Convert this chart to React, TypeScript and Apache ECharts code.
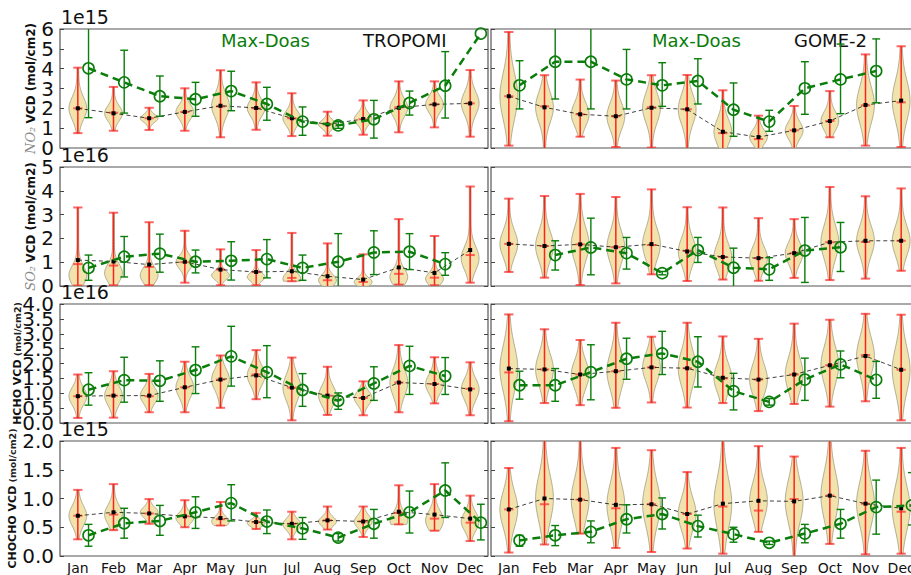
import React, { useEffect, useRef } from 'react';
import * as echarts from 'echarts';

const months = ['Jan', 'Feb', 'Mar', 'Apr', 'May', 'Jun', 'Jul', 'Aug', 'Sep', 'Oct', 'Nov', 'Dec'];

// ---- NO2 (1e15) ----
const no2TropMin = [0.75, 0.87, 0.91, 0.87, 0.54, 0.92, 0.6, 0.62, 0.67, 0.79, 1.04, 0.57];
const no2TropMax = [4.05, 3.08, 2.03, 3.01, 3.92, 3.31, 2.76, 1.83, 2.4, 3.36, 3.36, 3.93];
const no2TropMean = [2.0, 1.75, 1.5, 1.82, 2.13, 2.02, 1.5, 1.19, 1.46, 2.03, 2.2, 2.25];
const no2TropMedian = [2.0, 1.78, 1.5, 1.82, 2.1, 2.0, 1.5, 1.2, 1.45, 2.05, 2.2, 2.25];
const no2DoasT = [4.02, 3.31, 2.61, 2.46, 2.87, 2.22, 1.33, 1.14, 1.45, 2.27, 3.14, 5.77];
const no2DoasTLo = [1.53, 1.76, 1.6, 1.6, 1.88, 1.4, 0.64, 0.99, 0.5, 1.66, 1.51, null];
const no2DoasTHi = [6.5, 4.93, 3.63, 3.31, 3.87, 3.06, 2.07, 1.33, 2.4, 2.87, 4.86, null];

const no2GomeMin = [0.12, -0.1, 0.57, 0.05, 0.02, -0.05, -0.2, -0.15, -0.05, 0.54, 0.12, 0.05];
const no2GomeMax = [5.85, 3.67, 3.45, 3.4, 3.67, 3.68, 2.91, 1.63, 2.12, 2.87, 4.72, 5.13];
const no2GomeMean = [2.61, 2.05, 1.7, 1.6, 2.03, 1.95, 0.82, 0.55, 0.89, 1.36, 2.17, 2.39];
const no2GomeMedian = [2.61, 2.1, 1.7, 1.6, 2.05, 1.95, 0.75, 0.45, 0.89, 1.36, 2.15, 2.3];
const no2DoasG = [3.16, 4.35, 4.35, 3.46, 3.16, 3.38, 1.93, 1.33, 3.01, 3.46, 3.88, null];
const no2DoasGLo = [1.97, 2.47, 1.97, 1.97, 2.1, 2.22, 0.59, 0.84, 1.7, 1.73, 2.28, null];
const no2DoasGHi = [4.4, 6.5, 6.5, 4.97, 4.3, 4.5, 3.28, 1.9, 4.35, 5.24, 5.5, null];

// ---- SO2 (1e16) ----
const so2TropMin = [0.02, 0.03, 0.03, 0.14, 0.03, 0.03, 0.2, -0.1, -0.1, 0.06, 0.03, 0.14];
const so2TropMax = [3.3, 3.08, 2.68, 2.32, 1.54, 1.51, 2.23, 1.79, 1.33, 2.81, 2.1, 4.18];
const so2TropMean = [1.09, 1.03, 0.9, 1.02, 0.69, 0.59, 0.62, 0.41, 0.27, 0.78, 0.55, 1.51];
const so2TropMedian = [0.92, 0.86, 0.8, 1.0, 0.69, 0.59, 0.34, 0.24, 0.17, 0.51, 0.35, 1.3];
const so2TropMode = [0.45, 0.55, 0.45, 1.0, 0.45, 0.38, 0.3, 0.24, 0.17, 0.38, 0.3, 1.16];
const so2DoasT = [0.76, 1.23, 1.36, 1.02, 1.06, 1.13, 0.76, 1.02, 1.41, 1.44, 0.92, null];
const so2DoasTLo = [0.24, 0.38, 0.58, 0.55, 0.25, 0.34, 0.24, -0.2, 0.48, 0.69, 0.45, null];
const so2DoasTHi = [1.3, 2.08, 2.18, 1.51, 1.86, 1.95, 1.3, 2.2, 2.32, 2.2, 1.4, null];

const so2GomeMin = [0.59, 0.35, 0.04, 0.11, 0.49, 0.21, 0.27, 0.22, 0.34, 0.25, 0.31, 0.64];
const so2GomeMax = [3.67, 3.78, 3.87, 3.74, 4.06, 3.31, 3.3, 2.85, 2.81, 4.16, 3.77, 4.1];
const so2GomeMean = [1.77, 1.68, 1.75, 1.63, 1.76, 1.45, 1.22, 1.17, 1.38, 1.84, 1.9, 1.9];
const so2GomeMedian = [1.77, 1.68, 1.75, 1.63, 1.72, 1.48, 1.22, 1.17, 1.38, 1.84, 1.85, 1.9];
const so2DoasG = [null, 1.3, 1.62, 1.38, 0.54, 1.51, 0.77, 0.7, 1.49, 1.63, null, null];
const so2DoasGLo = [null, 0.67, 0.47, 0.71, 0.47, 0.99, -0.2, 0.24, 0.15, 0.61, null, null];
const so2DoasGHi = [null, 1.9, 2.85, 2.04, 0.61, 2.04, 1.59, 1.19, 2.88, 2.67, null, null];

// ---- HCHO (1e16) ----
const hchoTropMin = [0.17, 0.18, 0.36, 0.36, 0.51, 0.8, 0.09, 0.27, 0.26, 0.36, 0.66, 0.26];
const hchoTropMax = [1.63, 1.74, 1.65, 2.06, 2.27, 2.45, 2.2, 1.89, 1.4, 2.62, 2.21, 2.04];
const hchoTropMean = [0.9, 0.92, 0.92, 1.2, 1.46, 1.6, 1.19, 0.92, 0.84, 1.36, 1.31, 1.13];
const hchoTropMedian = [0.9, 0.92, 0.9, 1.2, 1.46, 1.63, 1.19, 0.92, 0.84, 1.36, 1.31, 1.15];
const hchoDoasT = [1.12, 1.44, 1.42, 1.78, 2.24, 1.71, 1.11, 0.75, 1.33, 1.92, 1.58, null];
const hchoDoasTLo = [0.6, 0.7, 0.73, 0.99, 1.24, 0.85, 0.56, 0.46, 0.76, 0.96, 0.96, null];
const hchoDoasTHi = [1.69, 2.21, 2.09, 2.56, 3.25, 2.6, 1.66, 1.01, 1.89, 2.58, 2.2, null];

const hchoGomeMin = [0.06, 0.67, 0.6, 0.51, 0.69, 0.52, 0.67, 0.4, 0.64, 0.55, 0.73, 0.09];
const hchoGomeMax = [3.65, 3.15, 2.79, 3.37, 2.9, 3.37, 2.91, 2.83, 3.34, 3.47, 3.67, 3.64];
const hchoGomeMean = [1.83, 1.8, 1.63, 1.74, 1.87, 1.84, 1.52, 1.46, 1.63, 1.94, 2.25, 1.79];
const hchoGomeMedian = [1.7, 1.8, 1.63, 1.74, 1.87, 1.84, 1.5, 1.46, 1.63, 1.94, 2.28, 1.79];
const hchoDoasG = [1.27, 1.27, 1.71, 2.16, 2.34, 2.06, 1.07, 0.71, 1.46, 1.97, 1.45, null];
const hchoDoasGLo = [0.8, 0.73, 0.78, 1.47, 1.63, 1.21, 0.44, 0.6, 0.76, 1.52, 0.83, null];
const hchoDoasGHi = [1.74, 1.83, 2.63, 2.85, 3.08, 2.9, 1.67, 0.82, 2.18, 2.42, 2.07, null];

// ---- CHOCHO (1e15) ----
const chochoTropMin = [0.29, 0.45, 0.56, 0.5, 0.53, 0.47, 0.29, 0.46, 0.33, 0.55, 0.44, 0.26];
const chochoTropMax = [1.15, 1.25, 0.99, 0.97, 0.94, 0.75, 0.77, 0.86, 0.86, 1.23, 1.25, 1.05];
const chochoTropMean = [0.7, 0.76, 0.74, 0.69, 0.66, 0.59, 0.56, 0.62, 0.6, 0.77, 0.72, 0.65];
const chochoTropMedian = [0.7, 0.72, 0.74, 0.69, 0.64, 0.59, 0.56, 0.62, 0.6, 0.75, 0.65, 0.58];
const chochoTropMode = [0.7, 0.72, 0.76, 0.66, 0.6, 0.57, 0.55, 0.6, 0.6, 0.62, 0.62, 0.6];
const chochoDoasT = [0.36, 0.57, 0.61, 0.76, 0.92, 0.6, 0.48, 0.32, 0.56, 0.76, 1.14, 0.58];
const chochoDoasTLo = [0.17, 0.31, 0.36, 0.48, 0.61, 0.39, 0.29, 0.26, 0.31, 0.4, 0.67, 0.28];
const chochoDoasTHi = [0.55, 0.83, 0.88, 1.03, 1.24, 0.8, 0.67, 0.39, 0.81, 1.13, 1.62, 0.9];

const chochoGomeMin = [0.06, 0.2, 0.39, 0.14, 0.07, 0.13, 0.04, 0.42, -0.05, 0.21, 0.03, 0.04];
const chochoGomeMax = [1.53, 2.1, 2.1, 1.88, 1.84, 1.46, 2.1, 1.91, 1.73, 2.15, 1.83, 1.88];
const chochoGomeMean = [0.81, 1.0, 0.98, 0.89, 0.9, 0.73, 0.91, 0.96, 0.95, 1.05, 0.91, 0.83];
const chochoGomeMedian = [0.81, 0.9, 0.98, 0.83, 0.9, 0.73, 0.86, 0.79, 0.99, 1.05, 0.91, 0.77];
const chochoDoasG = [0.27, 0.36, 0.42, 0.64, 0.73, 0.52, 0.38, 0.23, 0.39, 0.56, 0.85, 0.88];
const chochoDoasGLo = [0.17, 0.18, 0.23, 0.4, 0.47, 0.33, 0.24, 0.2, 0.23, 0.31, 0.38, 0.54];
const chochoDoasGHi = [0.36, 0.53, 0.61, 0.89, 1.01, 0.71, 0.5, 0.26, 0.55, 0.81, 1.32, 1.45];

// HCHO tick labels (drawn separately, they overlap as in the original)
const hchoTicks = [0, 0.5, 1.0, 1.5, 2.0, 2.5, 3.0, 3.5, 4.0];

type Panel = {
  min: number[]; max: number[]; mean: number[]; median: number[]; mode: number[]; k: number;
  doas: (number | null)[]; lo: (number | null)[]; hi: (number | null)[];
};

const panels: Panel[] = [
  { min: no2TropMin, max: no2TropMax, mean: no2TropMean, median: no2TropMedian, mode: no2TropMean, k: 0.17, doas: no2DoasT, lo: no2DoasTLo, hi: no2DoasTHi },
  { min: no2GomeMin, max: no2GomeMax, mean: no2GomeMean, median: no2GomeMedian, mode: no2GomeMean, k: 0.2, doas: no2DoasG, lo: no2DoasGLo, hi: no2DoasGHi },
  { min: so2TropMin, max: so2TropMax, mean: so2TropMean, median: so2TropMedian, mode: so2TropMode, k: 0.12, doas: so2DoasT, lo: so2DoasTLo, hi: so2DoasTHi },
  { min: so2GomeMin, max: so2GomeMax, mean: so2GomeMean, median: so2GomeMedian, mode: so2GomeMean, k: 0.18, doas: so2DoasG, lo: so2DoasGLo, hi: so2DoasGHi },
  { min: hchoTropMin, max: hchoTropMax, mean: hchoTropMean, median: hchoTropMedian, mode: hchoTropMean, k: 0.2, doas: hchoDoasT, lo: hchoDoasTLo, hi: hchoDoasTHi },
  { min: hchoGomeMin, max: hchoGomeMax, mean: hchoGomeMean, median: hchoGomeMedian, mode: hchoGomeMean, k: 0.21, doas: hchoDoasG, lo: hchoDoasGLo, hi: hchoDoasGHi },
  { min: chochoTropMin, max: chochoTropMax, mean: chochoTropMean, median: chochoTropMedian, mode: chochoTropMode, k: 0.2, doas: chochoDoasT, lo: chochoDoasTLo, hi: chochoDoasTHi },
  { min: chochoGomeMin, max: chochoGomeMax, mean: chochoGomeMean, median: chochoGomeMedian, mode: chochoGomeMean, k: 0.21, doas: chochoDoasG, lo: chochoDoasGLo, hi: chochoDoasGHi },
];

const yMaxes = [6, 5, 4, 2];
const yIntervals = [1, 1, 0.5, 0.5];
const offsetTexts = ['1e15', '1e16', '1e16', '1e15'];

const GREEN = '#0a7d0a';
const FONT = 'DejaVu Sans';

function violinItem(params: any, api: any) {
  const x = api.value(0);
  const lo = api.value(1);
  const hi = api.value(2);
  const med = api.value(4);
  const mode = api.value(5);
  const sd = api.value(6);
  const halfW = api.size([0.25, 0])[0];
  const capW = api.size([0.13, 0])[0];
  const N = 48;
  const left: number[][] = [];
  const right: number[][] = [];
  for (let i = 0; i <= N; i++) {
    const v = lo + ((hi - lo) * i) / N;
    const g = Math.exp(-0.5 * Math.pow((v - mode) / sd, 2));
    const w = (0.1 + 0.9 * g) * halfW;
    const c = api.coord([x, v]);
    left.push([c[0] - w, c[1]]);
    right.push([c[0] + w, c[1]]);
  }
  const pts = left.concat(right.reverse());
  const pMin = api.coord([x, lo]);
  const pMax = api.coord([x, hi]);
  const pMed = api.coord([x, med]);
  const red = 'rgba(255,0,0,0.85)';
  const cap = 'rgba(255,40,40,0.7)';
  return {
    type: 'group',
    children: [
      { type: 'polygon', shape: { points: pts }, style: { fill: 'rgba(240,222,158,0.85)', stroke: 'rgba(150,145,120,0.7)', lineWidth: 1 } },
      { type: 'line', shape: { x1: pMin[0], y1: pMin[1], x2: pMax[0], y2: pMax[1] }, style: { stroke: red, lineWidth: 1.5 } },
      { type: 'line', shape: { x1: pMin[0] - capW, y1: pMin[1], x2: pMin[0] + capW, y2: pMin[1] }, style: { stroke: cap, lineWidth: 2 } },
      { type: 'line', shape: { x1: pMax[0] - capW, y1: pMax[1], x2: pMax[0] + capW, y2: pMax[1] }, style: { stroke: cap, lineWidth: 2 } },
      { type: 'line', shape: { x1: pMed[0] - capW, y1: pMed[1], x2: pMed[0] + capW, y2: pMed[1] }, style: { stroke: cap, lineWidth: 2 } },
    ],
  };
}

function errItem(params: any, api: any) {
  const x = api.value(0);
  const pLo = api.coord([x, api.value(1)]);
  const pHi = api.coord([x, api.value(2)]);
  const capW = api.size([0.11, 0])[0];
  const st = { stroke: GREEN, lineWidth: 1.4 };
  return {
    type: 'group',
    children: [
      { type: 'line', shape: { x1: pLo[0], y1: pLo[1], x2: pHi[0], y2: pHi[1] }, style: st },
      { type: 'line', shape: { x1: pLo[0] - capW, y1: pLo[1], x2: pLo[0] + capW, y2: pLo[1] }, style: st },
      { type: 'line', shape: { x1: pHi[0] - capW, y1: pHi[1], x2: pHi[0] + capW, y2: pHi[1] }, style: st },
    ],
  };
}

const yNames = [
  { text: '{it|NO₂} {b|VCD (mol/cm2)}', gap: 21 },
  { text: '{it|SO₂} {b|VCD (mol/cm2)}', gap: 21 },
  { text: '{b2|HCHO VCD} {s|(mol/cm2)}', gap: 37 },
  { text: '{b2|CHOCHO VCD} {s|(mol/cm2)}', gap: 37 },
];

const nameRich = {
  it: { fontFamily: 'DejaVu Serif', fontStyle: 'italic', fontSize: 13, color: '#888' },
  b: { fontFamily: FONT, fontWeight: 'bold', fontSize: 12, color: '#111' },
  b2: { fontFamily: FONT, fontWeight: 'bold', fontSize: 11, color: '#111' },
  s: { fontFamily: FONT, fontWeight: 'bold', fontSize: 9.5, color: '#222' },
};

export default function App() {
  const ref = useRef<HTMLDivElement>(null);
  useEffect(() => {
    if (!ref.current) return;
    const chart = echarts.init(ref.current, null, { renderer: 'svg' });
    const rowTops = [29, 167, 304, 441];
    const rowH = 119;
    const colLefts = [60, 491];
    const colW = 428;

    const grids: any[] = [];
    const xAxes: any[] = [];
    const yAxes: any[] = [];
    const series: any[] = [];
    const graphics: any[] = [];

    panels.forEach((p, idx) => {
      const row = Math.floor(idx / 2);
      const col = idx % 2;
      grids.push({
        left: colLefts[col], top: rowTops[row], width: colW, height: rowH,
        show: true, borderColor: '#555', borderWidth: 1.2, backgroundColor: 'transparent',
      });
      xAxes.push({ type: 'value', gridIndex: idx, min: 0.5, max: 12.5, show: false });
      const yMax = yMaxes[row];
      const iv = yIntervals[row];
      yAxes.push({
        type: 'value', gridIndex: idx, min: 0, max: yMax, interval: iv, position: 'left',
        axisLine: { show: false },
        axisTick: { show: true, inside: true, length: 4, lineStyle: { color: '#444' } },
        splitLine: { show: false },
        axisLabel: {
          show: col === 0 && row !== 2, fontSize: 20, fontFamily: FONT, color: '#111', margin: 6,
          hideOverlap: false, showMinLabel: true, showMaxLabel: true,
          formatter: (v: number) => (iv < 1 ? v.toFixed(1) : String(v)),
        },
        name: col === 0 ? yNames[row].text : '',
        nameLocation: 'middle', nameRotate: 90, nameGap: yNames[row].gap,
        nameTextStyle: { rich: nameRich },
      });
      yAxes.push({
        type: 'value', gridIndex: idx, min: 0, max: yMax, interval: iv, position: 'right',
        axisLine: { show: false },
        axisTick: { show: true, inside: true, length: 4, lineStyle: { color: '#444' } },
        splitLine: { show: false }, axisLabel: { show: false },
      });

      const violinData = months.map((_, i) => [
        i + 1, p.min[i], p.max[i], p.mean[i], p.median[i], p.mode[i], p.k * (p.max[i] - p.min[i]),
      ]);
      series.push({
        type: 'custom', xAxisIndex: idx, yAxisIndex: idx * 2, clip: true,
        renderItem: violinItem, data: violinData, z: 2,
      });
      series.push({
        type: 'line', xAxisIndex: idx, yAxisIndex: idx * 2,
        data: months.map((_, i) => [i + 1, p.mean[i]]),
        symbol: 'rect', symbolSize: 4, itemStyle: { color: '#000' },
        lineStyle: { color: 'rgba(0,0,0,0.75)', width: 1, type: [4, 3] }, z: 3,
      });
      const errData: number[][] = [];
      const doasData: number[][] = [];
      months.forEach((_, i) => {
        const d = p.doas[i];
        if (d !== null) doasData.push([i + 1.3, d]);
        const l = p.lo[i];
        const h = p.hi[i];
        if (l !== null && h !== null) errData.push([i + 1.3, l, h]);
      });
      series.push({
        type: 'custom', xAxisIndex: idx, yAxisIndex: idx * 2, clip: true,
        renderItem: errItem, data: errData, z: 4,
      });
      series.push({
        type: 'line', xAxisIndex: idx, yAxisIndex: idx * 2, data: doasData,
        symbol: 'circle', symbolSize: 11,
        itemStyle: { color: 'rgba(0,0,0,0)', borderColor: GREEN, borderWidth: 1.6 },
        lineStyle: { color: GREEN, width: 2.5, type: [8, 5] }, z: 5,
      });

      if (col === 0) {
        graphics.push({
          type: 'text', left: 61, top: rowTops[row] - 22,
          style: { text: offsetTexts[row], fontSize: 19, fontFamily: FONT, fill: '#111' },
        });
      }
    });

    // month label axes on bottom row
    [6, 7].forEach((gi) => {
      xAxes.push({
        type: 'category', gridIndex: gi, data: months, boundaryGap: true, position: 'bottom',
        axisLine: { show: false }, axisTick: { show: false },
        axisLabel: { interval: 0, fontSize: 14, fontFamily: FONT, color: '#111', margin: 5 },
      });
    });

    graphics.push(
      { type: 'text', left: 221, top: 31, style: { text: 'Max-Doas', fontSize: 18, fontFamily: FONT, fill: GREEN } },
      { type: 'text', left: 363, top: 31, style: { text: 'TROPOMI', fontSize: 18, fontFamily: FONT, fill: '#111' } },
      { type: 'text', left: 652, top: 31, style: { text: 'Max-Doas', fontSize: 18, fontFamily: FONT, fill: GREEN } },
      { type: 'text', left: 794, top: 31, style: { text: 'GOME-2', fontSize: 18, fontFamily: FONT, fill: '#111' } },
    );

    const baseOption = {
      animation: false,
      backgroundColor: '#fff',
      grid: grids,
      xAxis: xAxes,
      yAxis: yAxes,
      series,
      graphic: graphics,
    };
    chart.setOption(baseOption);

    // HCHO tick labels placed through the axis scale
    const hchoLabels = hchoTicks.map((v) => {
      const py = chart.convertToPixel({ yAxisIndex: 8 }, v) as number;
      return {
        type: 'text', x: 54, y: py,
        style: {
          text: v.toFixed(1), fontSize: 20, fontFamily: FONT, fill: '#111',
          align: 'right', verticalAlign: 'middle',
        },
      };
    });
    chart.setOption({ graphic: graphics.concat(hchoLabels) });
    return () => chart.dispose();
  }, []);
  return (
    <div
      ref={ref}
      style={{ position: 'fixed', left: 0, top: 0, width: 930, height: 575 }}
    />
  );
}
